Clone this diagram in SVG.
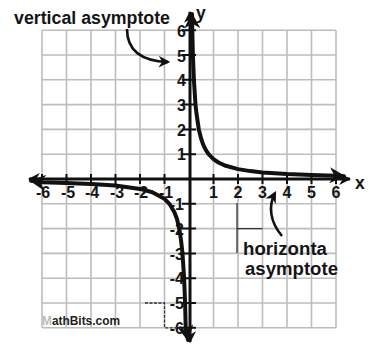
<svg xmlns="http://www.w3.org/2000/svg" width="376" height="346" viewBox="0 0 376 346">
<style>
.grid{stroke:#bdbdbd;stroke-width:1.6;fill:none}
.axis{stroke:#111;stroke-width:3;fill:none}
.tick{stroke:#111;stroke-width:2}
.curve{stroke:#111;stroke-width:4;fill:none;stroke-linejoin:round;stroke-linecap:round}
.num{font-family:"Liberation Sans",Arial,sans-serif;font-weight:bold;font-size:16px;fill:#151515}
.lbl{font-family:"Liberation Sans",Arial,sans-serif;font-weight:bold;font-size:17.5px;fill:#151515}
.thin{stroke:#333;stroke-width:1.3;fill:none}
.dash{stroke:#333;stroke-width:1.3;fill:none;stroke-dasharray:3 1.5}
.pointer{stroke:#111;stroke-width:2.6;fill:none}
</style>
<defs>
<marker id="arr" viewBox="0 0 10 10" refX="9" refY="5" markerWidth="4" markerHeight="4" orient="auto-start-reverse" markerUnits="strokeWidth">
<path d="M0,0 L10,5 L0,10 L3,5 Z" fill="#111"/>
</marker>
<marker id="parr" viewBox="0 0 10 10" refX="8" refY="5" markerWidth="4.5" markerHeight="4.5" orient="auto" markerUnits="strokeWidth">
<path d="M0,0 L10,5 L0,10 L3,5 Z" fill="#111"/>
</marker>
</defs>
<rect width="376" height="346" fill="#fff"/>
<g id="grid">
<path class="grid" d="M42,30.2V327.8M66.5,30.2V327.8M91,30.2V327.8M115.5,30.2V327.8M140,30.2V327.8M164.5,30.2V327.8M213.5,30.2V327.8M238,30.2V327.8M262.5,30.2V327.8M287,30.2V327.8M311.5,30.2V327.8M336,30.2V327.8"/>
<path class="grid" d="M42,30.2H336M42,55H336M42,79.8H336M42,104.6H336M42,129.4H336M42,154.2H336M42,203.8H336M42,228.6H336M42,253.4H336M42,278.2H336M42,303H336M42,327.8H336"/>
</g>
<g id="axes">
<line class="axis" x1="190" y1="342" x2="190" y2="12" marker-start="url(#arr)" marker-end="url(#arr)"/>
<line class="axis" x1="29" y1="179" x2="350" y2="179" marker-start="url(#arr)" marker-end="url(#arr)"/>
<path class="tick" d="M182,30.2H196M182,55H196M182,79.8H196M182,104.6H196M182,129.4H196M182,154.2H196M182,203.8H196M182,228.6H196M182,253.4H196M182,278.2H196M182,303H196M182,327.8H196"/>
<path class="tick" d="M42,174V184M66.5,174V184M91,174V184M115.5,174V184M140,174V184M164.5,174V184M213.5,174V184M238,174V184M262.5,174V184M287,174V184M311.5,174V184M336,174V184"/>
</g>
<g id="ylabels" class="num" text-anchor="end">
<text x="186" y="37">6</text>
<text x="186" y="62">5</text>
<text x="186" y="86">4</text>
<text x="186" y="111">3</text>
<text x="186" y="136">2</text>
<text x="186" y="160">1</text>
<text x="184" y="210">-1</text>
<text x="184" y="235">-2</text>
<text x="184" y="260">-3</text>
<text x="184" y="284">-4</text>
<text x="184" y="309">-5</text>
<text x="184" y="334">-6</text>
</g>
<g id="xlabels" class="num" text-anchor="middle">
<text x="43" y="198">-6</text>
<text x="68" y="198">-5</text>
<text x="92" y="198">-4</text>
<text x="117" y="198">-3</text>
<text x="141" y="198">-2</text>
<text x="166" y="198">-1</text>
<text x="213.5" y="198">1</text>
<text x="238" y="198">2</text>
<text x="262.5" y="198">3</text>
<text x="287" y="198">4</text>
<text x="311.5" y="198">5</text>
<text x="336" y="198">6</text>
</g>
<g id="axis-names" class="lbl">
<text x="196" y="19">y</text>
<text x="355" y="189">x</text>
</g>
<g id="curves">
<polyline class="curve" marker-start="url(#arr)" marker-end="url(#arr)" points="192,14 192.3,30.2 192.9,55 193.9,79.8 195.5,104.6 196.4,112.9 198.8,129.4 201.3,139.3 203.7,145.9 206.2,150.7 208.6,154.2 213.5,159.2 218.4,162.5 225.8,165.8 238,169.1 250.3,171.1 262.5,172.4 287,174 311.5,175 336,175.7 344,176.2"/>
<polyline class="curve" marker-start="url(#arr)" marker-end="url(#arr)" points="31,180.8 42,182.3 66.5,183 91,184 115.5,185.6 140,188.9 152.3,192.2 164.5,198.8 169.4,203.8 174.3,212.1 177,219 179.2,228.6 181,240 182.5,253.4 184.1,278.2 185.1,303 185.7,327.8 188,340"/>
</g>
<g id="marks">
<path class="thin" d="M237,203V253M237,228.6H262.5"/>
<path class="dash" d="M145,303H164.5V327.8H178"/>
</g>
<g id="vertical-asymptote-label">
<text class="lbl" x="14" y="24" textLength="156" lengthAdjust="spacingAndGlyphs">vertical asymptote</text>
<path class="pointer" d="M127,29C127,48 138,61 168,62" marker-end="url(#parr)"/>
</g>
<g id="horizontal-asymptote-label">
<text class="lbl" x="243" y="255" textLength="84" lengthAdjust="spacingAndGlyphs">horizonta</text>
<text class="lbl" x="245" y="275" textLength="93" lengthAdjust="spacingAndGlyphs">asymptote</text>
<path class="pointer" d="M282,236C270,222 268,206 275,193" marker-end="url(#parr)"/>
</g>
<g id="watermark">
<text x="42" y="325" font-family="'Liberation Sans',Arial,sans-serif" font-weight="bold" font-size="12" fill="#222" textLength="78" lengthAdjust="spacingAndGlyphs"><tspan fill="#bbb">M</tspan>athBits.com</text>
</g>
</svg>
